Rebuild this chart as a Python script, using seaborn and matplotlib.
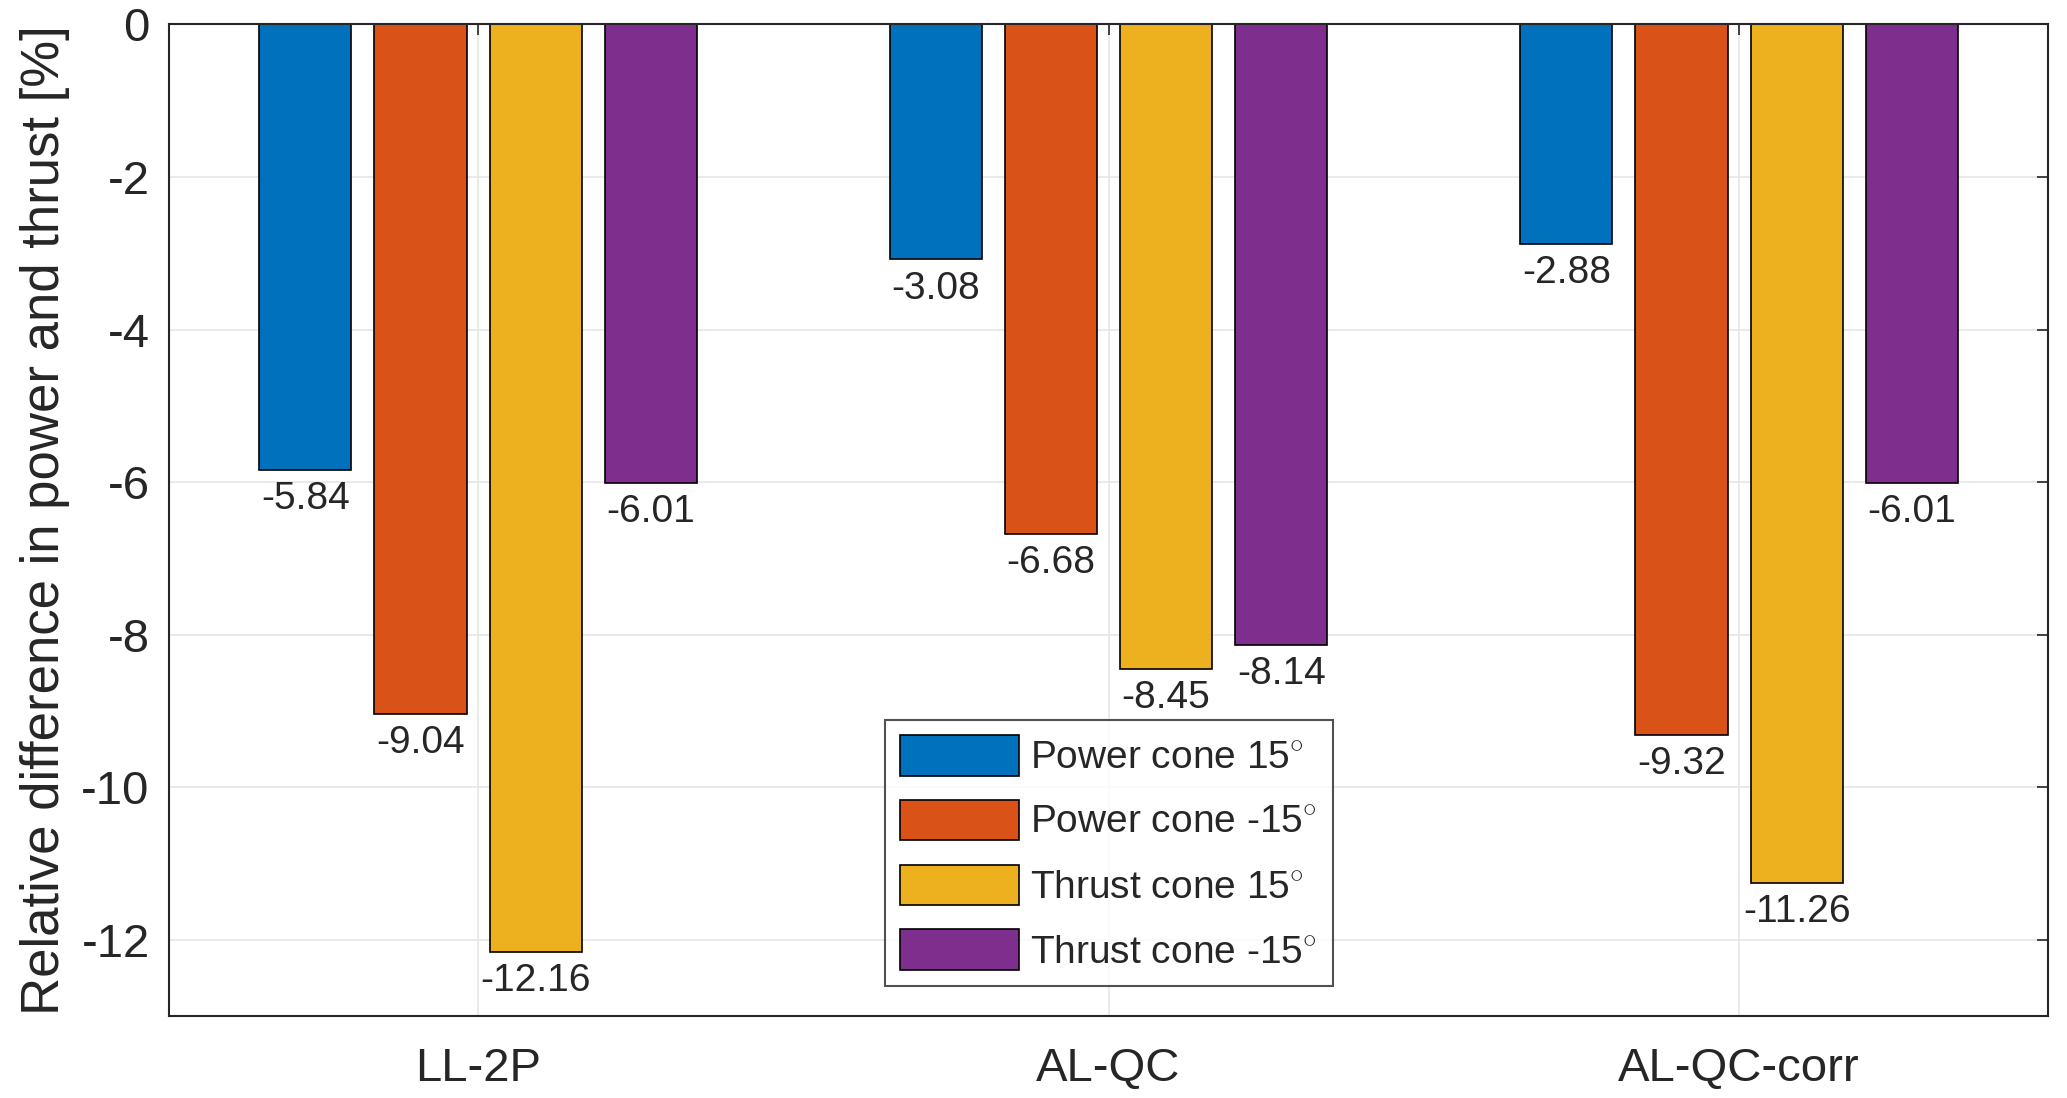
import pandas as pd
import matplotlib
matplotlib.use("Agg")
import matplotlib.pyplot as plt
import seaborn as sns

# data
methods = ["LL-2P", "AL-QC", "AL-QC-corr"]
series = ["Power cone 15$^{\\circ}$", "Power cone -15$^{\\circ}$",
          "Thrust cone 15$^{\\circ}$", "Thrust cone -15$^{\\circ}$"]
power_pos = [-5.84, -3.08, -2.88]
power_neg = [-9.04, -6.68, -9.32]
thrust_pos = [-12.16, -8.45, -11.26]
thrust_neg = [-6.01, -8.14, -6.01]
colors = ["#0072BD", "#D95319", "#EDB120", "#7E2F8E"]

rows = []
for name, vals in zip(series, [power_pos, power_neg, thrust_pos, thrust_neg]):
    for m, v in zip(methods, vals):
        rows.append({"method": m, "series": name, "value": v})
df = pd.DataFrame(rows)

sns.set_style("white")
plt.rcParams["font.family"] = ["Liberation Sans", "DejaVu Sans"]
plt.rcParams["mathtext.fontset"] = "custom"
plt.rcParams["mathtext.rm"] = "Liberation Sans"
plt.rcParams["axes.unicode_minus"] = False

fig = plt.figure(figsize=(20.67, 10.98), dpi=100)
ax = fig.add_axes([0.0818, 0.0747, 0.909, 0.903])

sns.barplot(data=df, x="method", y="value", hue="series", order=methods,
            hue_order=series, palette=colors, width=0.73, gap=0.2,
            edgecolor="black", linewidth=1.2, saturation=1, ax=ax)

for cont in ax.containers:
    ax.bar_label(cont, fmt="%.2f", padding=8, fontsize=28)

ax.set_ylim(-13, 0)
ax.set_xlim(-0.49, 2.49)
ax.set_yticks(range(-12, 1, 2))
ax.set_xlabel("")
ax.set_ylabel("Relative difference in power and thrust [%]", fontsize=38,
              labelpad=8)
ax.tick_params(axis="both", labelsize=34, direction="in", length=8,
               width=1.2, color="#262626", top=True, right=True, pad=14)
ax.tick_params(axis="x", pad=22)
ax.grid(True, color="#e6e6e6", linewidth=1.2)
ax.set_axisbelow(True)
for s in ax.spines.values():
    s.set_color("#262626")
    s.set_linewidth(1.5)

leg = ax.legend(loc="lower center", bbox_to_anchor=(0.5, 0.03), fontsize=28,
                frameon=True, fancybox=False, edgecolor="#262626",
                handlelength=3.05, handleheight=1.23, borderpad=0.4,
                labelspacing=0.6, handletextpad=0.3, borderaxespad=0)
leg.get_frame().set_linewidth(1.5)

fig.savefig("out.png", dpi=100)
